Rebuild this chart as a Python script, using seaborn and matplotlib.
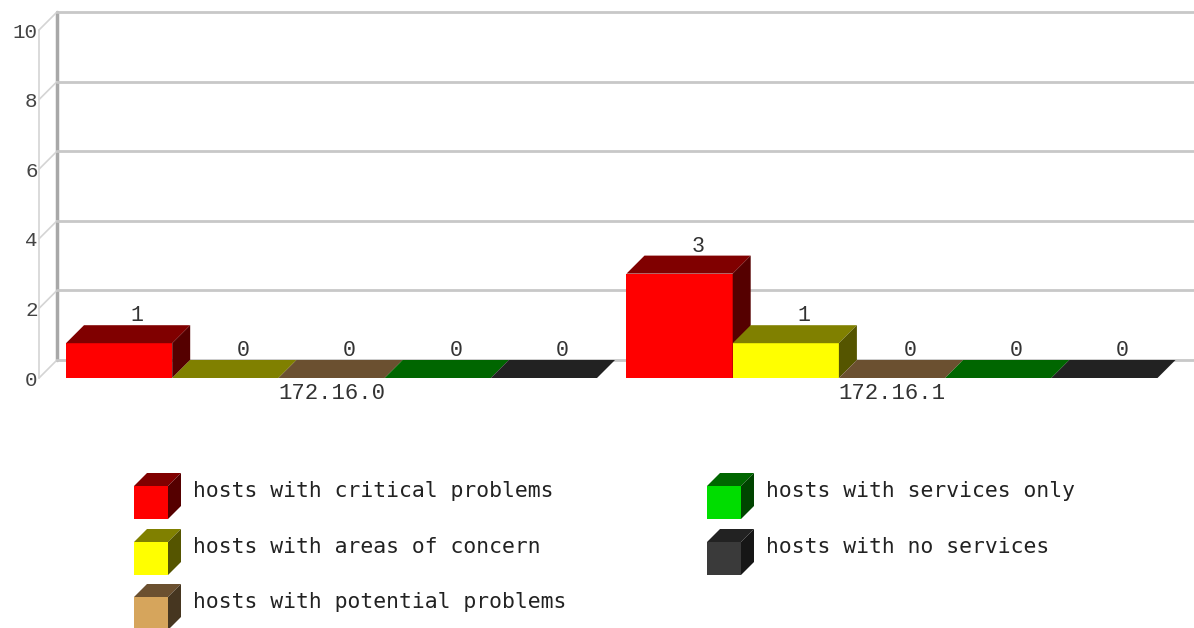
import matplotlib
matplotlib.use("Agg")
import matplotlib.pyplot as plt
import matplotlib.colors as mcolors
from matplotlib.patches import Polygon
import seaborn as sns
import pandas as pd

# ---- data -------------------------------------------------------------
subnets = ["172.16.0", "172.16.1"]
series = [
    "hosts with critical problems",
    "hosts with areas of concern",
    "hosts with potential problems",
    "hosts with services only",
    "hosts with no services",
]
critical = [1, 3]
concern = [0, 1]
potential = [0, 0]
services_only = [0, 0]
no_services = [0, 0]
y_ticks = [0, 2, 4, 6, 8, 10]

# face colours for each series: front, top, side
front_colors = ["#FF0000", "#FFFF00", "#D6A55C", "#00DD00", "#3A3A3A"]
top_colors = ["#800000", "#808000", "#6B5030", "#006600", "#222222"]
side_colors = ["#550000", "#555500", "#463620", "#004400", "#161616"]

values = critical + concern + potential + services_only + no_services
df = pd.DataFrame({
    "subnet": subnets * len(series),
    "series": [s for s in series for _ in subnets],
    "hosts": values,
})

# ---- figure -----------------------------------------------------------
W, H, DPI = 1194, 628, 100
sns.set_style("white")
plt.rcParams["font.family"] = ["DejaVu Sans"]
NUM_FONT = "Liberation Mono"
LEGEND_FONT = "DejaVu Sans Mono"
TEXT_COLOR = "#333333"
GRID = "#C8C8C8"

fig = plt.figure(figsize=(W / DPI, H / DPI), dpi=DPI)
fig.patch.set_facecolor("white")

# front plane of the plot: x from 39px to 1176px, y from 378px (0) to 30px (10)
ax = fig.add_axes([39 / W, (H - 378) / H, (1176 - 39) / W, 348 / H])
ax.set_facecolor("none")

sns.barplot(
    data=df, x="subnet", y="hosts", hue="series", hue_order=series,
    palette=front_colors, saturation=1, width=0.9474, gap=0,
    errorbar=None, legend=False, linewidth=0, ax=ax,
)

px_per_unit = 560.5
x0_lim = -(331.5 - 39) / px_per_unit
x1_lim = (1176 - 331.5) / px_per_unit
ax.set_xlim(x0_lim, x1_lim)
ax.set_ylim(0, 10)

DEPTH = 18  # px, 3-D offset to the back plane
dxd = DEPTH * (x1_lim - x0_lim) / (1176 - 39)
dyd = DEPTH * 10 / 348

for s in ax.spines.values():
    s.set_visible(False)
ax.set_xlabel("")
ax.set_ylabel("")
ax.set_yticks(y_ticks)
ax.set_yticklabels([str(t) for t in y_ticks], family=NUM_FONT, fontsize=15,
                   color="#444444")
ax.tick_params(axis="y", length=0, pad=1)
ax.tick_params(axis="x", length=0, pad=3.5)
for lbl in ax.get_xticklabels():
    lbl.set_family(NUM_FONT)
    lbl.set_fontsize(16)
    lbl.set_color(TEXT_COLOR)

# walls: front edge, back wall, connecting diagonals and back gridlines
ax.plot([x0_lim, x0_lim], [0, 10], color="#D4D4D4", lw=1.2, clip_on=False, zorder=1)
ax.plot([x0_lim + dxd, x0_lim + dxd], [dyd, 10 + dyd], color="#A8A8A8", lw=2.5,
        clip_on=False, zorder=1)
for t in y_ticks:
    ax.plot([x0_lim, x0_lim + dxd], [t, t + dyd], color="#D4D4D4", lw=1.2,
            clip_on=False, zorder=1)
    ax.plot([x0_lim + dxd, x1_lim + dxd], [t + dyd, t + dyd], color=GRID, lw=2,
            clip_on=False, zorder=1)

# extrude the bars: top and side faces, drawn left to right
hex_front = [c.lower() for c in front_colors]
bars = sorted(ax.patches, key=lambda p: p.get_x())
for rank, p in enumerate(bars):
    k = hex_front.index(mcolors.to_hex(p.get_facecolor()))
    x, w, h = p.get_x(), p.get_width(), p.get_height()
    base = 3 + 3 * rank
    p.set_zorder(base)
    p.set_clip_on(False)
    top = Polygon([(x, h), (x + w, h), (x + w + dxd, h + dyd), (x + dxd, h + dyd)],
                  closed=True, facecolor=top_colors[k], edgecolor="none",
                  zorder=base + 1, clip_on=False)
    side = Polygon([(x + w, 0), (x + w + dxd, dyd), (x + w + dxd, h + dyd), (x + w, h)],
                   closed=True, facecolor=side_colors[k], edgecolor="none",
                   zorder=base + 2, clip_on=False)
    ax.add_patch(top)
    if h > 0:
        ax.add_patch(side)
    ax.annotate(f"{h:g}", xy=(x + w / 2, h), xytext=(DEPTH, DEPTH + 4),
                textcoords="offset pixels", ha="center", va="baseline",
                family=NUM_FONT, fontsize=15.5, color=TEXT_COLOR,
                zorder=100, annotation_clip=False)

# ---- legend with cube swatches ------------------------------------------
lax = fig.add_axes([0, 0, 1, 1])
lax.set_xlim(0, W)
lax.set_ylim(H, 0)
lax.axis("off")
lax.set_zorder(5)

slots = [(134, 486), (134, 542), (134, 597), (707, 486), (707, 542)]
CW, CH, CD = 34, 33, 13
for k, (lx, ly) in enumerate(slots):
    lax.add_patch(Polygon([(lx, ly), (lx + CW, ly), (lx + CW, ly + CH), (lx, ly + CH)],
                          facecolor=front_colors[k], edgecolor="none", clip_on=False))
    lax.add_patch(Polygon([(lx, ly), (lx + CW, ly), (lx + CW + CD, ly - CD), (lx + CD, ly - CD)],
                          facecolor=top_colors[k], edgecolor="none", clip_on=False))
    lax.add_patch(Polygon([(lx + CW, ly), (lx + CW + CD, ly - CD),
                           (lx + CW + CD, ly + CH - CD), (lx + CW, ly + CH)],
                          facecolor=side_colors[k], edgecolor="none", clip_on=False))
    lax.text(lx + 59, ly + 11, series[k], ha="left", va="baseline",
             family=LEGEND_FONT, fontsize=15.4, color="#222222")

fig.savefig("out.png", dpi=DPI, facecolor="white")
